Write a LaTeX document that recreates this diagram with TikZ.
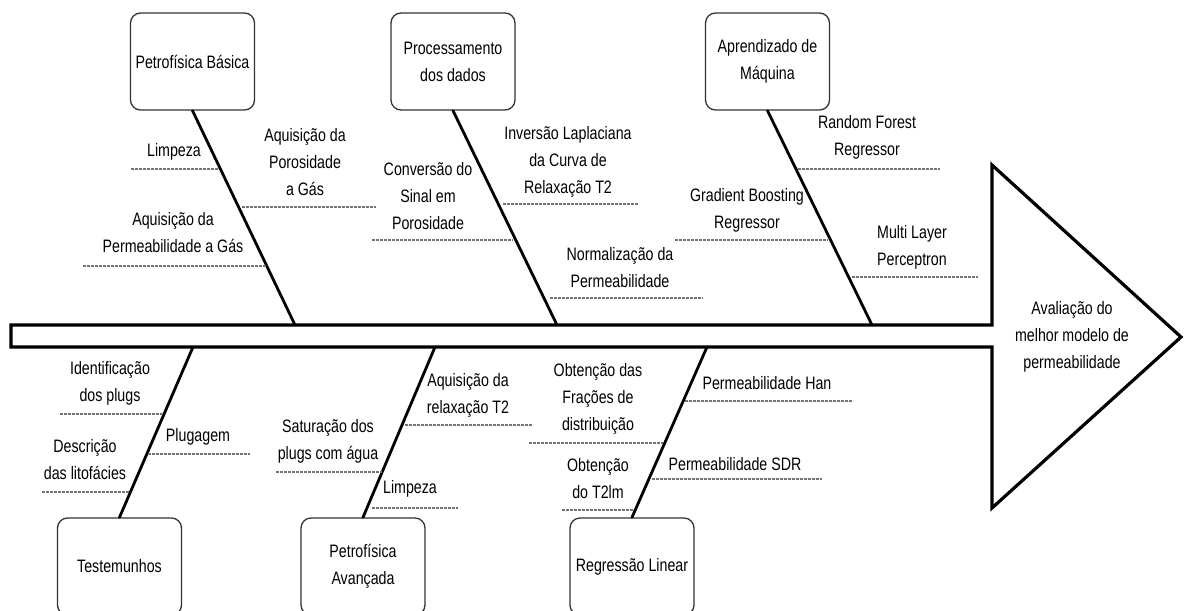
\documentclass[tikz,border=0pt]{standalone}
\usepackage{fontspec}
\setmainfont{Liberation Sans}[FakeStretch=0.79]
\begin{document}
\begin{tikzpicture}[x={(1pt,0)},y={(0,-1pt)},
  txt/.style={align=center,inner sep=0pt,text=black,font=\fontsize{18}{27}\selectfont},
  catbox/.style={txt,draw=black!80,line width=1.3pt,rounded corners=10pt,
    minimum width=124pt,minimum height=97pt},
  bone/.style={line width=2.8pt,line cap=round},
  sub/.style={draw=black!55,line width=1.3pt,dash pattern=on 2.6pt off 1.4pt},
  spine/.style={line width=3.2pt,line join=miter}]
\useasboundingbox (0,0) rectangle (1185,610);
\clip (0,0) rectangle (1185,610);

% spine with arrow head
\draw[spine] (11,325) -- (992,325) -- (992,165) -- (1181,337) -- (992,508)
  -- (992,347) -- (11,347) -- cycle;
\node[txt] (goal) at (1072,337) {Avaliação do\\melhor modelo de\\permeabilidade};

% points where the bones meet the spine
\coordinate (s1) at (295,325);
\coordinate (s2) at (557,325);
\coordinate (s3) at (872,325);
\coordinate (s4) at (193,347);
\coordinate (s5) at (435,347);
\coordinate (s6) at (707,347);

% category boxes
\node[catbox] (c1) at (192.5,61.5) {Petrofísica Básica};
\node[catbox] (c2) at (453,61.5) {Processamento\\dos dados};
\node[catbox] (c3) at (767.5,61.5) {Aprendizado de\\Máquina};
\node[catbox] (c4) at (119.5,566.5) {Testemunhos};
\node[catbox] (c5) at (363,566.5) {Petrofísica\\Avançada};
\node[catbox] (c6) at (632,566.5) {Regressão Linear};

% bones
\draw[bone] (c1.south) -- (s1);
\draw[bone] (c2.south) -- (s2);
\draw[bone] (c3.south) -- (s3);
\draw[bone] (s4) -- (c4.north);
\draw[bone] (s5) -- (c5.north);
\draw[bone] (s6) -- (c6.north);

% sub-causes: Petrofísica Básica
\node[txt] (a1) at (174,152) {Limpeza};
\draw[sub] (131,169) -- (218,169);
\node[txt] (a2) at (305,162) {Aquisição da\\Porosidade\\a Gás};
\draw[sub] (242,207) -- (376,207);
\node[txt] (a3) at (173,233) {Aquisição da\\Permeabilidade a Gás};
\draw[sub] (83,266) -- (267,266);

% sub-causes: Processamento dos dados
\node[txt] (b1) at (428,196) {Conversão do\\Sinal em\\Porosidade};
\draw[sub] (372,240) -- (513,240);
\node[txt] (b2) at (568,162) {Inversão Laplaciana\\da Curva de\\Relaxação T2};
\draw[sub] (503,204) -- (638,204);
\node[txt] (b3) at (620,268) {Normalização da\\Permeabilidade};
\draw[sub] (550,298) -- (703,298);

% sub-causes: Aprendizado de Máquina
\node[txt] (m1) at (867,137) {Random Forest\\Regressor};
\draw[sub] (798,169) -- (940,169);
\node[txt] (m2) at (747,210) {Gradient Boosting\\Regressor};
\draw[sub] (675,240) -- (828,240);
\node[txt] (m3) at (912,247) {Multi Layer\\Perceptron};
\draw[sub] (852,277) -- (978,277);

% sub-causes: Testemunhos
\node[txt] (t1) at (110,383) {Identificação\\dos plugs};
\draw[sub] (60,414) -- (163,414);
\node[txt] (t2) at (198,437) {Plugagem};
\draw[sub] (148,454) -- (250,454);
\node[txt] (t3) at (85,460) {Descrição\\das litofácies};
\draw[sub] (42,492) -- (130,492);

% sub-causes: Petrofísica Avançada
\node[txt] (p1) at (468,395) {Aquisição da\\relaxação T2};
\draw[sub] (405,425) -- (532,425);
\node[txt] (p2) at (328,441) {Saturação dos\\plugs com água};
\draw[sub] (276,472) -- (382,472);
\node[txt] (p3) at (410,489) {Limpeza};
\draw[sub] (372,508) -- (458,508);

% sub-causes: Regressão Linear
\node[txt] (r1) at (598,399) {Obtenção das\\Frações de\\distribuição};
\draw[sub] (529,443) -- (663,443);
\node[txt] (r2) at (767,383) {Permeabilidade Han};
\draw[sub] (685,401) -- (853,401);
\node[txt] (r3) at (598,479) {Obtenção\\do T2lm};
\draw[sub] (562,510) -- (633,510);
\node[txt] (r4) at (735,464) {Permeabilidade SDR};
\draw[sub] (652,479) -- (822,479);
\end{tikzpicture}
\end{document}
